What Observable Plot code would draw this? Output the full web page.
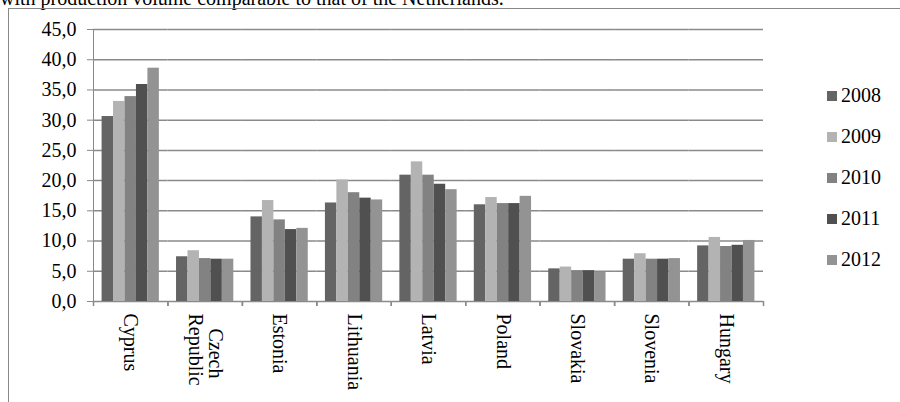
<!DOCTYPE html>
<html><head><meta charset="utf-8">
<script src="https://cdn.jsdelivr.net/npm/d3@7"></script>
<script src="https://cdn.jsdelivr.net/npm/@observablehq/plot@0.6"></script>
<style>
html,body{margin:0;padding:0;background:#fff;}
#wrap{position:relative;width:900px;height:402px;overflow:hidden;font-family:"Liberation Serif",serif;}
#intro{position:absolute;left:0;top:-12px;font-family:"Liberation Serif",serif;font-size:20px;line-height:20px;white-space:nowrap;color:#000;}
#frame{position:absolute;left:8px;top:8px;width:900px;height:400px;border-left:1.5px solid #888;border-top:1.5px solid #888;}
#chart{position:absolute;left:0;top:0;}
#chart svg text{fill:#000;}
#legend{position:absolute;left:827px;top:0;}
.row{position:absolute;left:0;height:20px;display:flex;align-items:center;white-space:nowrap;font-family:"Liberation Serif",serif;font-size:20px;color:#000;}
.sw{width:10px;height:10px;margin-right:4px;}
</style></head><body>
<div id="wrap"><div id="intro">with production volume comparable to that of the Netherlands.</div><div id="frame"></div><div id="chart"></div><div id="legend"></div></div>
<script>
const countries = ["Cyprus","Czech Republic","Estonia","Lithuania","Latvia","Poland","Slovakia","Slovenia","Hungary"];
const countryLabels = ["Cyprus","\u00a0\u00a0\u00a0Czech\nRepublic","Estonia","Lithuania","Latvia","Poland","Slovakia","Slovenia","Hungary"];
const years = ["2008","2009","2010","2011","2012"];
const v2008 = [30.6,7.4,14.0,16.3,20.9,16.0,5.4,7.0,9.2];
const v2009 = [33.1,8.4,16.7,20.1,23.1,17.2,5.7,7.9,10.6];
const v2010 = [33.9,7.1,13.5,18.0,20.9,16.2,5.1,7.0,9.1];
const v2011 = [35.9,7.0,11.9,17.1,19.4,16.2,5.1,7.0,9.3];
const v2012 = [38.6,7.0,12.1,16.8,18.5,17.4,4.8,7.1,10.1];
const yTicks = [0,5,10,15,20,25,30,35,40,45];
const yearColors = ["#646464","#b3b3b3","#828282","#505050","#939393"];

const series = [v2008,v2009,v2010,v2011,v2012];
const rows = [];
countries.forEach((c,i) => years.forEach((y,j) => rows.push({country:c, year:y, value:series[j][i]})));

const W = 900, H = 402, mL = 93, mR = 137, mT = 29, mB = 101;
const outer = 0.75;
const facetStep = (W - mL - mR) / countries.length;
const xStep = facetStep / (years.length + 2*outer);
const edge = outer*xStep + xStep/2;

const plot = Plot.plot({
  width: W, height: H,
  marginLeft: mL, marginRight: mR, marginTop: mT, marginBottom: mB,
  style: {fontFamily: "Liberation Serif, serif", fontSize: "20px", color: "#888", background: "transparent", overflow: "visible"},
  facet: {data: rows, x: "country"},
  fx: {domain: countries, padding: 0, round: false, axis: "bottom", tickRotate: 90, tickSize: 0, tickPadding: 12,
       tickFormat: d => countryLabels[countries.indexOf(d)], label: null},
  x: {domain: years, paddingInner: 0, paddingOuter: outer, round: false, axis: null},
  y: {domain: [0,45], ticks: yTicks, tickFormat: d => d.toFixed(1).replace(".", ","), tickSize: 6, tickPadding: 11, line: true, label: null},
  color: {domain: years, range: yearColors},
  marks: [
    Plot.ruleY(yTicks, {stroke: "#8a8a8a", strokeWidth: 1.5}),
    Plot.barY(rows, {x: "year", y: "value", fill: "year"}),
    Plot.ruleX([0], {x: () => years[0], y1: 0, y2: 0, insetBottom: -5, dx: -edge, stroke: "#8a8a8a", strokeWidth: 1.5}),
    Plot.ruleX([0], {x: () => years[years.length-1], y1: 0, y2: 0, insetBottom: -5, dx: edge, stroke: "#8a8a8a", strokeWidth: 1.5})
  ]
});
document.getElementById("chart").appendChild(plot);

const color = plot.scale("color");
const legend = document.getElementById("legend");
years.forEach((y,i) => {
  const r = document.createElement("div");
  r.className = "row";
  r.style.top = (85.5 + 41*i) + "px";
  const s = document.createElement("span");
  s.className = "sw";
  s.style.background = color.range[color.domain.indexOf(y)];
  r.appendChild(s);
  r.appendChild(document.createTextNode(y));
  legend.appendChild(r);
});
</script>
</body></html>
